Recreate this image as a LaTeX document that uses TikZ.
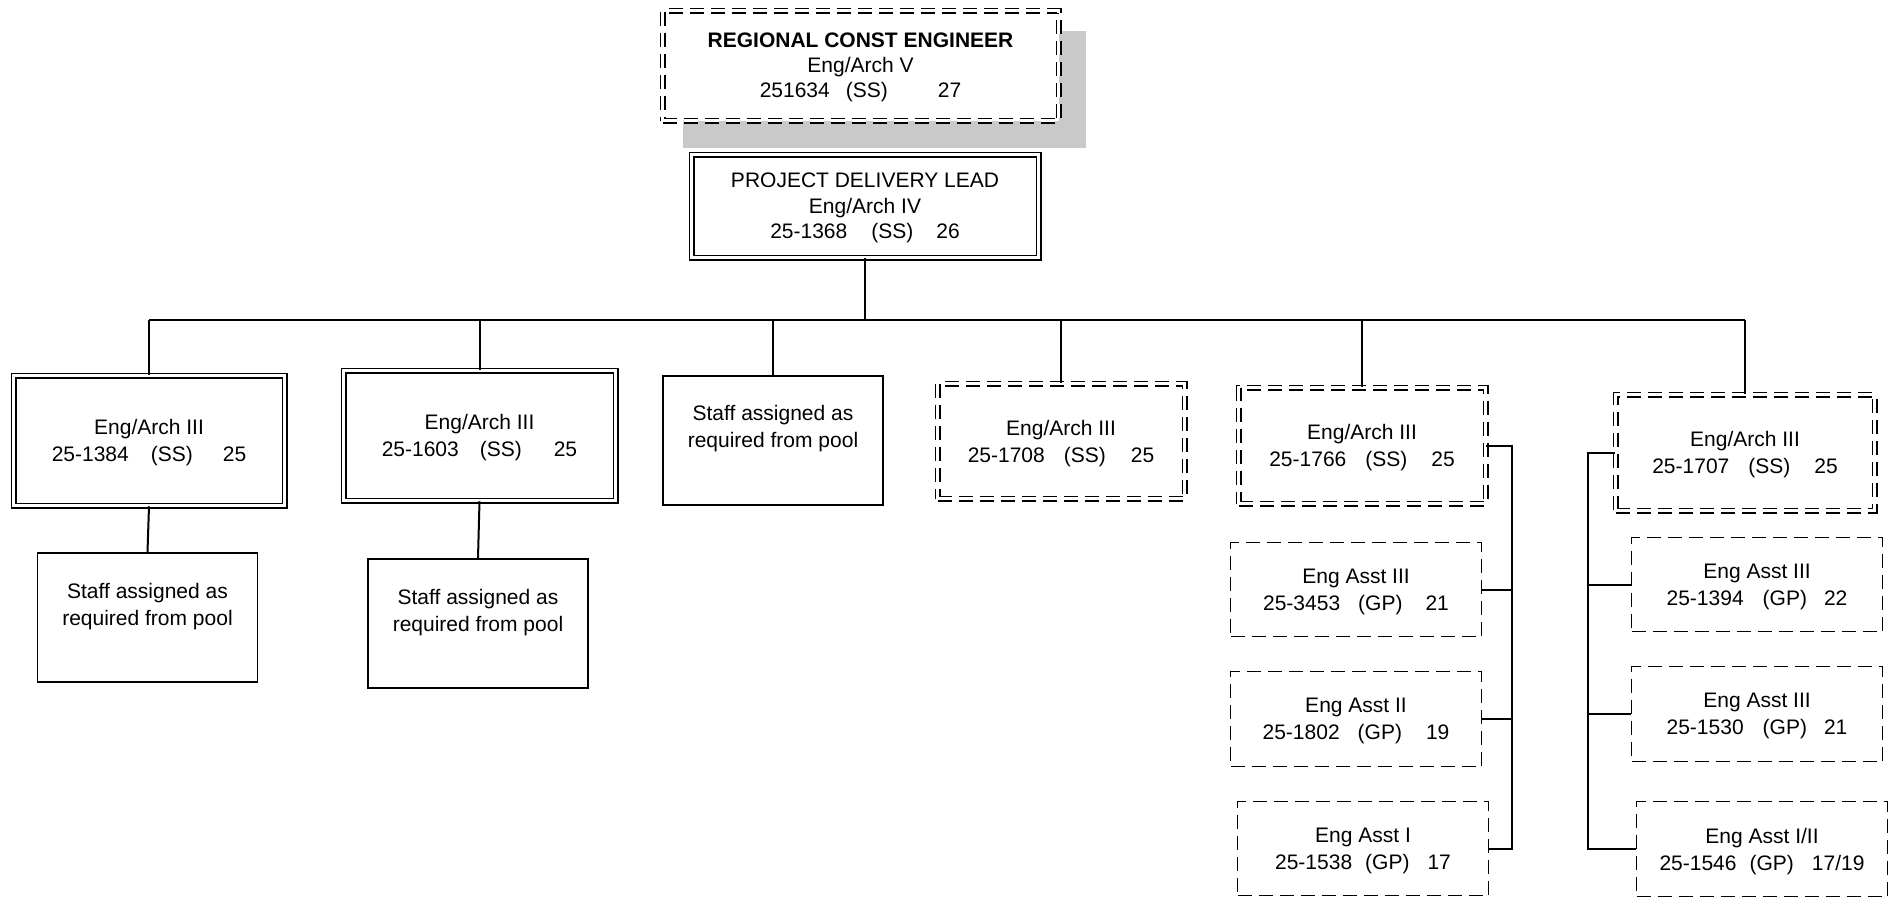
\documentclass[tikz,border=0pt]{standalone}
\usepackage{fontspec}
\setmainfont{Liberation Sans}
\usepackage{tikz}
\usetikzlibrary{positioning}
\usetikzlibrary{backgrounds}
\definecolor{shadowColor}{gray}{0.79}

\begin{document}
\begin{tikzpicture}[x=1pt,y=-1pt]

          \tikzstyle{baseBox} = [draw, line width=1.8pt, align=center, inner sep=0pt, text depth=0pt, font=\fontsize{21}{27}\selectfont];
          \tikzstyle{solidBox} = [baseBox];
          \tikzstyle{doubleBox} = [baseBox, line width=1.5pt, double, double distance=3pt];
          \tikzstyle{dashedBox} = [baseBox, dash pattern=on 14pt off 7pt];
          \tikzstyle{dashedDoubleBox} = [doubleBox, dash pattern=on 14pt off 7pt];
          \tikzstyle{poolText} = [align=center, inner sep=0pt, font=\fontsize{21}{27}\selectfont];
          \tikzstyle{orgEdge} = [line width=2pt];

          \useasboundingbox (0,0) rectangle (1892,898);

          % top of the chart
          \node[dashedDoubleBox, fill=white, minimum width=396pt, minimum height=110pt, font=\fontsize{21}{25}\selectfont] (rce) at (860.5,65.5)
            {\textbf{REGIONAL CONST ENGINEER}\\Eng/Arch V\\251634\hspace{16pt}(SS)\hspace{50pt}27};
          \begin{scope}[on background layer]
            \fill[shadowColor] ([shift={(21,21)}]rce.north west) rectangle ([shift={(27,27)}]rce.south east);
          \end{scope}
          \node[doubleBox, minimum width=347pt, minimum height=103pt, font=\fontsize{21}{25.5}\selectfont] (pdl) at (865,206)
            {PROJECT DELIVERY LEAD\\Eng/Arch IV\\25-1368\hspace{24pt}(SS)\hspace{23pt}26};

          % second row
          \node[doubleBox, minimum width=271pt, minimum height=130pt] (ea1384) at (149,440.5) {Eng/Arch III\\25-1384\hspace{22pt}(SS)\hspace{30pt}25};
          \node[doubleBox, minimum width=272pt, minimum height=130pt] (ea1603) at (479.5,435.5) {Eng/Arch III\\25-1603\hspace{21pt}(SS)\hspace{32pt}25};
          \node[solidBox, minimum width=220pt, minimum height=129pt] (pool0) at (773,440.5) {};
          \node[poolText] (pool0txt) at ([yshift=12pt]pool0.center) {Staff assigned as\\required from pool};
          \node[dashedDoubleBox, minimum width=247pt, minimum height=115pt] (ea1708) at (1061,441) {Eng/Arch III\\25-1708\hspace{19pt}(SS)\hspace{25pt}25};
          \node[dashedDoubleBox, minimum width=247pt, minimum height=116pt] (ea1766) at (1362,445.5) {Eng/Arch III\\25-1766\hspace{19pt}(SS)\hspace{24pt}25};
          \node[dashedDoubleBox, minimum width=259pt, minimum height=116pt] (ea1707) at (1745,452.5) {Eng/Arch III\\25-1707\hspace{19pt}(SS)\hspace{24pt}25};

          % staff pools
          \node[solidBox, minimum width=220pt, minimum height=129pt] (pool1) at (147.5,617.5) {};
          \node[poolText] (pool1txt) at ([yshift=11pt]pool1.center) {Staff assigned as\\required from pool};
          \node[solidBox, minimum width=220pt, minimum height=129pt] (pool2) at (478,623.5) {};
          \node[poolText] (pool2txt) at ([yshift=11pt]pool2.center) {Staff assigned as\\required from pool};

          % assistants
          \node[dashedBox, minimum width=251pt, minimum height=94pt] (asst3453) at (1356,589.5) {Eng Asst III\\25-3453\hspace{18pt}(GP)\hspace{23pt}21};
          \node[dashedBox, minimum width=251pt, minimum height=95pt] (asst1802) at (1356,719) {Eng Asst II\\25-1802\hspace{18pt}(GP)\hspace{24pt}19};
          \node[dashedBox, minimum width=251pt, minimum height=94pt] (asst1538) at (1363,848.5) {Eng Asst I\\25-1538\hspace{13pt}(GP)\hspace{18pt}17};
          \node[dashedBox, minimum width=251pt, minimum height=94pt] (asst1394) at (1757,584.5) {Eng Asst III\\25-1394\hspace{19pt}(GP)\hspace{17pt}22};
          \node[dashedBox, minimum width=251pt, minimum height=95pt] (asst1530) at (1757,714) {Eng Asst III\\25-1530\hspace{19pt}(GP)\hspace{17pt}21};
          \node[dashedBox, minimum width=251pt, minimum height=95pt] (asst1546) at (1762,849) {Eng Asst I/II\\25-1546\hspace{13pt}(GP)\hspace{18pt}17/19};

          \coordinate (bus) at (0,320);
          \coordinate (rightBus) at (1512,0);
          \coordinate (leftBus) at (1588,0);

          \draw[orgEdge] (pdl.south) -- (pdl.south |- bus);
          \draw[orgEdge] (ea1384.north |- bus) -- (ea1707.north |- bus);
          \foreach \n in {ea1384, ea1603, pool0, ea1708, ea1766, ea1707}
            \draw[orgEdge] (\n.north |- bus) -- (\n.north);
          \draw[orgEdge] (ea1384.south) -- (pool1.north);
          \draw[orgEdge] (ea1603.south) -- (pool2.north);

          \draw[orgEdge] (ea1766.east) -| (rightBus |- asst1538.east) -- (asst1538.east);
          \draw[orgEdge] (asst3453.east) -- (rightBus |- asst3453.east);
          \draw[orgEdge] (asst1802.east) -- (rightBus |- asst1802.east);

          \draw[orgEdge] (ea1707.west) -| (leftBus |- asst1546.west) -- (asst1546.west);
          \draw[orgEdge] (asst1394.west) -- (leftBus |- asst1394.west);
          \draw[orgEdge] (asst1530.west) -- (leftBus |- asst1530.west);
        \end{tikzpicture}
\end{document}
